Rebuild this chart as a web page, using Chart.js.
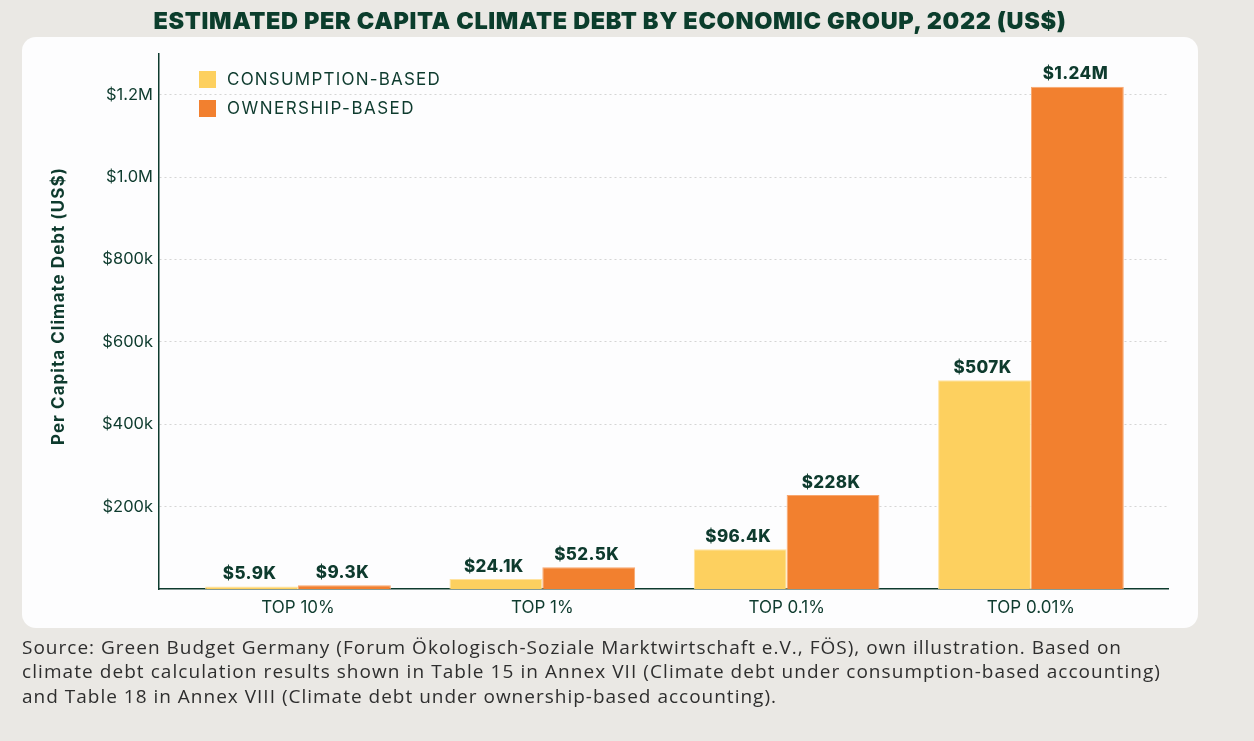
<!DOCTYPE html>
<html>
<head>
<meta charset="utf-8">
<script src="https://cdn.jsdelivr.net/npm/chart.js@4.4.1/dist/chart.umd.min.js"></script>
<style>
  html, body { margin:0; padding:0; }
  body { width:1254px; height:741px; background:#EAE8E4; position:relative; overflow:hidden; font-family: Inter, "Open Sans", sans-serif; }
  #card { position:absolute; left:22px; top:37px; width:1176px; height:591px; background:#FDFDFE; border-radius:14px; }
  #chart { position:absolute; left:0; top:0; }
  .abs { position:absolute; white-space:nowrap; }
  #title { font-family: Inter, sans-serif; font-weight:900; font-size:23.5px; color:#0B3D2C; line-height:28px; top:7px; }
  .leg-box { position:absolute; width:17px; height:17px; }
  .leg-txt { font-family: Inter, sans-serif; font-size:17px; color:#0E3B2E; line-height:20.6px; }
  .src { font-family: "Open Sans", sans-serif; font-size:19px; color:#2E2E2E; line-height:24.7px; left:22px; }
</style>
</head>
<body>
<div id="card"></div>
<canvas id="chart" width="1254" height="741"></canvas>
<div id="title" class="abs">ESTIMATED PER CAPITA CLIMATE DEBT BY ECONOMIC GROUP, 2022 (US$)</div>
<div id="legend"></div>
<div class="abs src" id="s1" style="top:634.6px">Source: Green Budget Germany (Forum Ökologisch-Soziale Marktwirtschaft e.V., FÖS), own illustration. Based on</div>
<div class="abs src" id="s2" style="top:659.3px">climate debt calculation results shown in Table 15 in Annex VII (Climate debt under consumption-based accounting)</div>
<div class="abs src" id="s3" style="top:684px">and Table 18 in Annex VIII (Climate debt under ownership-based accounting).</div>
<script>
// ---- data ----
const categories = ["TOP 10%", "TOP 1%", "TOP 0.1%", "TOP 0.01%"];
const seriesNames = ["CONSUMPTION-BASED", "OWNERSHIP-BASED"];
const consumptionValues = [5900, 24100, 96400, 507000];
const ownershipValues = [9300, 52500, 228000, 1219000];
const consumptionLabels = ["$5.9K", "$24.1K", "$96.4K", "$507K"];
const ownershipLabels = ["$9.3K", "$52.5K", "$228K", "$1.24M"];
const yTickValues = [200000, 400000, 600000, 800000, 1000000, 1200000];
const yTickLabels = ["$200k", "$400k", "$600k", "$800k", "$1.0M", "$1.2M"];

const DARK = "#0E3B2E";
const colors = ["#FDD05F", "#F2802F"];
const borderColors = ["#FFE3A0", "#F8A66E"];

function fitWidth(el, target) {
  el.style.letterSpacing = "0px";
  const w = el.getBoundingClientRect().width;
  const n = el.textContent.length;
  el.style.letterSpacing = ((target - w) / n) + "px";
}

const title = document.getElementById("title");
fitWidth(title, 913);
title.style.left = (610 - title.getBoundingClientRect().width / 2) + "px";

fitWidth(document.getElementById("s1"), 1100);
fitWidth(document.getElementById("s2"), 1139);
fitWidth(document.getElementById("s3"), 755);

const legend = document.getElementById("legend");
const legTargets = [213, 187];
seriesNames.forEach((name, i) => {
  const box = document.createElement("div");
  box.className = "leg-box";
  box.style.left = "199px";
  box.style.top = (71 + i * 29) + "px";
  box.style.background = colors[i];
  legend.appendChild(box);
  const t = document.createElement("div");
  t.className = "abs leg-txt";
  t.style.left = "227px";
  t.style.top = (69.2 + i * 29) + "px";
  t.textContent = name;
  legend.appendChild(t);
  fitWidth(t, legTargets[i] + 1);
});

const labelsBySeries = [consumptionLabels, ownershipLabels];

const dataLabelPlugin = {
  id: "dataLabels",
  afterDatasetsDraw(chart) {
    const ctx = chart.ctx;
    ctx.save();
    ctx.font = "800 17px Inter, sans-serif";
    ctx.fillStyle = DARK;
    ctx.textAlign = "center";
    ctx.textBaseline = "alphabetic";
    if ("letterSpacing" in ctx) ctx.letterSpacing = "0.4px";
    chart.data.datasets.forEach((ds, di) => {
      const meta = chart.getDatasetMeta(di);
      meta.data.forEach((el, i) => {
        ctx.fillText(labelsBySeries[di][i], el.x - 2, el.y - 7.5);
      });
    });
    ctx.restore();
  }
};

const yTitlePlugin = {
  id: "yTitle",
  afterDraw(chart) {
    const ctx = chart.ctx;
    ctx.save();
    ctx.translate(59, 306);
    ctx.rotate(-Math.PI / 2);
    ctx.font = "700 17px Inter, sans-serif";
    ctx.fillStyle = DARK;
    ctx.textAlign = "center";
    ctx.textBaseline = "middle";
    const txt = "Per Capita Climate Debt (US$)";
    const w0 = ctx.measureText(txt).width;
    if ("letterSpacing" in ctx) ctx.letterSpacing = ((278 - w0) / txt.length) + "px";
    ctx.fillText(txt, 0, 0);
    ctx.restore();
  }
};

new Chart(document.getElementById("chart"), {
  type: "bar",
  data: {
    datasets: [
      { label: seriesNames[0], data: consumptionValues.map((v, i) => ({ x: i, y: v })),
        backgroundColor: colors[0], borderColor: borderColors[0], borderWidth: 1,
        categoryPercentage: 0.76, barPercentage: 1.0 },
      { label: seriesNames[1], data: ownershipValues.map((v, i) => ({ x: i, y: v })),
        backgroundColor: colors[1], borderColor: borderColors[1], borderWidth: 1,
        categoryPercentage: 0.76, barPercentage: 1.0 }
    ]
  },
  options: {
    responsive: false,
    animation: false,
    devicePixelRatio: 1,
    layout: { padding: { left: 0, right: 86, top: 53.5, bottom: 0 } },
    plugins: { legend: { display: false }, tooltip: { enabled: false }, title: { display: false } },
    scales: {
      x: {
        type: "linear",
        offset: false,
        min: -0.569,
        max: 3.561,
        grid: { display: false, drawTicks: false, offset: false },
        border: { display: true, color: DARK, width: 1.5 },
        ticks: {
          stepSize: 1,
          includeBounds: false,
          autoSkip: false,
          maxRotation: 0,
          padding: 9,
          color: DARK,
          font: { family: "Inter, sans-serif", size: 17 },
          callback: (v) => (Number.isInteger(v) && categories[v] !== undefined) ? categories[v] : ""
        },
        afterFit: (s) => { s.height = 152; }
      },
      y: {
        min: 0,
        max: 1300000,
        grid: { color: "#D5D5D5", lineWidth: 1, drawTicks: false },
        border: { display: true, color: DARK, width: 1.5, dash: [2, 3] },
        ticks: {
          stepSize: 200000,
          padding: 6,
          color: DARK,
          font: { family: "Inter, sans-serif", size: 16.5 },
          callback: (v) => { const k = yTickValues.indexOf(v); return k >= 0 ? yTickLabels[k] : ""; }
        },
        afterBuildTicks: (axis) => { axis.ticks = yTickValues.map(v => ({ value: v })); },
        afterFit: (s) => { s.width = 159; }
      }
    }
  },
  plugins: [dataLabelPlugin, yTitlePlugin]
});
</script>
</body>
</html>
